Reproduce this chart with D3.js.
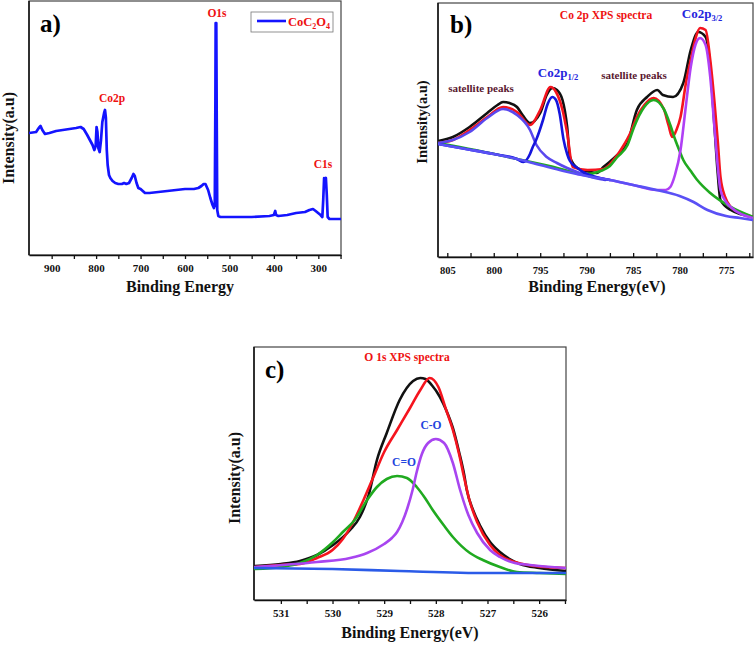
<!DOCTYPE html>
<html><head><meta charset="utf-8">
<script src="https://cdn.jsdelivr.net/npm/d3@7"></script>
<style>
body{margin:0;background:#fff}
svg{display:block}
text{font-family:"Liberation Serif","Times New Roman",serif;font-weight:bold}
</style>
</head><body>
<svg id="chart" width="756" height="645"></svg>
<script>
// ---------- DATA ----------
// Panel a: survey spectrum [binding energy eV, intensity a.u.]
const surveySpectrum = [
 [951,122],[935,123],[929,127],[925,129],[921,125],[915,121],[905,122],[890,124],[875,125],[860,126],
 [845,127],[835,128],[828,126],[820,120],[814,115],[808,110],[804,105],[801,109],[799,128],[797,123],
 [795,107],[792,103],[789,115],[786,133],[782,142],[780,145],[778,137],[776,105],[774,90],[771,80],
 [768,77],[763,74],[757,72],[750,71],[742,71],[737,72],[732,71],[726,72],[720,77],[716,81],[713,79],
 [709,72],[705,67],[700,66],[695,64],[690,62],[680,62],[660,63],[640,64],[620,65],[600,66],[580,66],
 [570,67],[563,69],[558,71],[554,71],[548,65],[543,57],[538,50],[535,47],[533,50],[531.6,155],[531,232],
 [529.6,232],[528.6,135],[527.5,45],[525,39],[520,38],[500,38],[450,38],[410,39],[400,40],[397,44],
 [395,40],[390,39],[370,40],[350,42],[330,43],[320,45],[312,46],[306,44],[295,40],[291,38],[289,55],
 [287,77],[285,75],[283,77],[281,60],[279,38],[275,36],[260,36],[249,36]
];
const surveyMajorTicks = [900,800,700,600,500,400,300];
const surveyMinorTicks = [850,750,650,550,450,350,250];

// Panel b: Co 2p high-resolution spectrum
const co2pRaw = [
 [806,116],[804.4,120],[802.6,130],[800.7,144],[799.6,152],[799,155],[798.3,154],[797.5,150],[796.9,142],
 [796.1,134],[795,144],[794.3,162],[793.7,169],[793.2,167],[792.6,157],[792.1,130],[791.8,100],[791,89],
 [789.6,85],[788.9,84],[788.2,90],[786.7,102],[785.6,114],[784.6,147],[783.5,160],[782.4,167],[781.8,162],
 [780.7,160],[779.6,174],[778.8,207],[778,225],[777.2,220],[776.7,190],[776.2,124],[775.9,84],[775.6,57],
 [774.5,47],[772.1,40]
];
const co2pFit = [
 [806,114],[804.4,117],[802.6,127],[800.7,140],[799,150],[797.5,145],[796.1,132],[795,147],[793.9,170],
 [793.3,165],[792.6,147],[792.1,124],[791.5,90],[789.9,87],[788.2,88],[786.7,102],[786,112],[785.3,124],
 [784.6,140],[783.8,152],[782.8,159],[781.7,148],[781.2,132],[780.8,120],[780.3,128],[779.9,140],[779.3,175],
 [778.8,197],[778.3,218],[777.8,229],[777.2,227],[776.7,197],[776.2,150],[775.9,117],[775.6,80],[775.1,60],
 [774.5,50],[773.4,44],[772.1,40]
];
const co2pBackground = [
 [806,113],[803,108],[800,103],[797.5,98],[795,92],[792.5,86],[790,81],[787.5,77],[785,72],[782.5,67],
 [780,61],[778.5,55],[777,47],[775,41],[773.5,39],[772.1,37]
];
const co2p12Peak = [
 [806,113],[803,108],[800,103],[797.5,98],[796.8,95],[796.1,103],[795.8,110],[795.4,118],[794.7,137],
 [794.2,153],[793.7,160],[793.3,157],[792.9,143],[792.5,118],[792.1,103],[791.8,96],[791,89],[790.2,84],
 [789,80],[787.5,77]
];
const satellitePeak1 = [
 [806,114],[804.4,117],[802.6,125],[800.7,139],[799,148],[797.5,142],[796.1,127],[795.4,112],[794.3,100],
 [793.2,94],[792.1,89],[790.7,84],[789.5,80],[788,77]
];
const satellitePeak2 = [
 [806,114],[802,107],[798,99],[794,91],[790,83],[788.5,86],[787.5,91],[786.7,100],[785.6,112],[784.9,130],
 [783.8,150],[782.8,157],[781.7,148],[781,132],[780.5,118],[780,106],[779.6,97],[778.8,86],[778.1,77],
 [776.7,64],[774.5,50],[772.1,40]
];
const co2p32Peak = [
 [791,83],[788,78],[785,72],[782.5,67],[781.5,67],[781,70],[780.5,82],[779.9,107],[779.4,145],[778.8,190],
 [778.3,212],[777.8,219],[777.2,212],[776.7,180],[776.2,124],[775.6,67],[775,55],[774.5,50],[772.1,39]
];
const co2pMajorTicks = [805,800,795,790,785,780,775];
const co2pMinorTicks = [802.5,797.5,792.5,787.5,782.5,777.5,772.5];

// Panel c: O 1s high-resolution spectrum
const o1sRaw = [
 [531.5,34],[531,36],[530.63,39],[530.3,45],[529.99,55],[529.66,70],[529.47,83],[529.3,105],[529.14,140],
 [528.95,167],[528.7,200],[528.44,219],[528.3,222],[528.2,221],[528.08,215],[527.92,203],[527.8,190],
 [527.67,172],[527.55,148],[527.45,125],[527.4,110],[527.28,90],[527.15,75],[526.95,58],[526.76,48],
 [526.57,41],[526.37,36],[526,32],[525.48,29]
];
const o1sFit = [
 [531.5,33],[531,35],[530.63,36],[530.3,42],[530,50],[529.8,61],[529.6,78],[529.4,100],[529.2,124],
 [529,148],[528.75,170],[528.5,192],[528.3,210],[528.12,222],[527.95,213],[527.8,190],[527.67,170],
 [527.55,146],[527.45,122],[527.35,100],[527.2,78],[526.95,55],[526.76,45],[526.47,38],[526.08,34],[525.48,32]
];
const o1sBackground = [[531.52,32],[530,31],[528.7,29],[527,27],[525.48,27]];
const peakCdoubleO = [
 [531.5,31],[531,33],[530.63,37],[530.3,45],[529.99,58],[529.8,68],[529.57,80],[529.33,100],[529.14,113],
 [528.95,121],[528.75,124],[528.56,122],[528.37,113],[528.21,102],[528.06,90],[527.85,75],[527.67,63],
 [527.34,47],[527.09,40],[526.76,33],[526.43,28],[525.99,27],[525.48,26]
];
const peakCsingleO = [
 [531.5,33],[530.3,38],[529.66,42],[529.33,47],[529,56],[528.85,62],[528.75,68],[528.65,78],[528.55,92],
 [528.45,110],[528.37,128],[528.27,146],[528.15,157],[528,161],[527.84,157],[527.67,137],[527.53,110],
 [527.37,85],[527.2,67],[526.95,50],[526.76,43],[526.47,37],[526.18,35],[525.48,32]
];
const o1sMajorTicks = [531,530,529,528,527,526];
const o1sMinorTicks = [530.5,529.5,528.5,527.5,526.5,525.5];

// ---------- DRAW ----------
const svg = d3.select("#chart");
const FONT = '"Liberation Serif","Times New Roman",serif';

function makePanel(o){
  const g = svg.append("g");
  const x = d3.scaleLinear().domain(o.xDomain).range([o.left, o.right]);
  const y = d3.scaleLinear().domain(o.yDomain).range([o.bottom, o.top]);
  g.append("rect").attr("x",o.left).attr("y",o.top).attr("width",o.right-o.left).attr("height",o.bottom-o.top)
   .attr("fill","#fff").attr("stroke","#444").attr("stroke-width",1.2);
  const inward = o.inward;
  const tl = inward ? -4 : 4;
  const ax = d3.axisBottom(x).tickValues(o.major).tickFormat(d3.format("d")).tickSize(tl).tickSizeOuter(0).tickPadding(inward?10:5);
  const axG = g.append("g").attr("transform",`translate(0,${o.bottom})`).call(ax);
  axG.select(".domain").attr("stroke","#111").attr("stroke-width",1.6);
  axG.selectAll(".tick line").attr("stroke","#111").attr("stroke-width",1.3);
  axG.selectAll(".tick text").attr("font-family",FONT).attr("font-weight","bold").attr("font-size",o.tickFont).attr("fill","#111");
  const mx = d3.axisBottom(x).tickValues(o.minor).tickFormat("").tickSize(tl).tickSizeOuter(0);
  const mG = g.append("g").attr("transform",`translate(0,${o.bottom})`).call(mx);
  mG.select(".domain").remove();
  mG.selectAll(".tick line").attr("stroke","#111").attr("stroke-width",1.3);
  g.append("line").attr("x1",o.left).attr("x2",o.left).attr("y1",o.top).attr("y2",o.bottom).attr("stroke","#111").attr("stroke-width",1.5);
  const clipId = "clip"+o.id;
  svg.append("clipPath").attr("id",clipId).append("rect").attr("x",o.left).attr("y",o.top-2).attr("width",o.right-o.left).attr("height",o.bottom-o.top+2);
  const lg = g.append("g").attr("clip-path",`url(#${clipId})`);
  o.series.forEach(s=>{
    const line = d3.line().x(d=>x(d[0])).y(d=>y(d[1])).curve(s.curve||d3.curveMonotoneX);
    lg.append("path").datum(s.data).attr("d",line).attr("fill","none").attr("stroke",s.color)
      .attr("stroke-width",s.width||2.6).attr("stroke-linejoin","round").attr("stroke-linecap","round");
  });
  g.append("text").attr("x",o.xTitlePos[0]).attr("y",o.xTitlePos[1]).attr("text-anchor","middle")
   .attr("font-size",16).attr("fill","#111").text(o.xTitle);
  g.append("text").attr("transform",`translate(${o.yTitlePos[0]},${o.yTitlePos[1]}) rotate(-90)`).attr("text-anchor","middle")
   .attr("font-size",o.yTitleFont).attr("fill","#111").text("Intensity(a.u)");
  g.append("text").attr("x",o.tag[0]).attr("y",o.tag[1]).attr("font-size",25).attr("fill","#000").text(o.tag[2]);
  return {g,x,y};
}

// Panel a
const pa = makePanel({id:"a",left:29,right:341,top:1,bottom:255,xDomain:[951,249],yDomain:[0,254],
  major:surveyMajorTicks,minor:surveyMinorTicks,inward:false,tickFont:11,
  series:[{data:surveySpectrum,color:"#1414ff",width:2.7,curve:d3.curveLinear}],
  xTitle:"Binding Energy",xTitlePos:[180,292],yTitlePos:[14,138],yTitleFont:16,tag:[40,32,"a)"]});
function lbl(g,x,y,t,c,s){return g.append("text").attr("x",x).attr("y",y).attr("text-anchor","middle").attr("font-size",s).attr("fill",c).text(t);}
lbl(pa.g,217,17,"O1s","#ee1111",11.5);
lbl(pa.g,112,102,"Co2p","#ee1111",11.5);
lbl(pa.g,323,168,"C1s","#ee1111",11.5);
pa.g.append("rect").attr("x",251).attr("y",12).attr("width",82).attr("height",20).attr("fill","#fff").attr("stroke","#777").attr("stroke-width",0.8);
pa.g.append("line").attr("x1",257).attr("x2",286).attr("y1",21).attr("y2",21).attr("stroke","#1414ff").attr("stroke-width",2.6);
const lt = pa.g.append("text").attr("x",288).attr("y",26).attr("font-size",12.5).attr("fill","#ee1111");
lt.append("tspan").text("CoC");
lt.append("tspan").attr("font-size",8).attr("dy",3).text("2");
lt.append("tspan").attr("dy",-3).text("O");
lt.append("tspan").attr("font-size",8).attr("dy",3).text("4");

// Panel b
const pb = makePanel({id:"b",left:438,right:753,top:3,bottom:257,xDomain:[806,772.1],yDomain:[0,254],
  major:co2pMajorTicks,minor:co2pMinorTicks,inward:true,tickFont:10.5,
  series:[
    {data:co2pRaw,color:"#111111"},
    {data:co2pFit,color:"#f5141e"},
    {data:satellitePeak2,color:"#20aa20"},
    {data:co2p32Peak,color:"#b040f5"},
    {data:satellitePeak1,color:"#5a48ee"},
    {data:co2p12Peak,color:"#1515dd"},
    {data:co2pBackground,color:"#5a50f5"}
  ],
  xTitle:"Binding Energy(eV)",xTitlePos:[597,292],yTitlePos:[427,122],yTitleFont:14.5,tag:[450,33,"b)"]});
lbl(pb.g,606,19,"Co 2p XPS spectra","#ee1111",11.5);
lbl(pb.g,481,92,"satellite peaks","#5a1830",11);
lbl(pb.g,634,79,"satellite peaks","#5a1830",11);
function coLabel(g,x,y,sub){
  const t=g.append("text").attr("x",x).attr("y",y).attr("text-anchor","middle").attr("font-size",13).attr("fill","#2424dd");
  t.append("tspan").text("Co2p");
  t.append("tspan").attr("font-size",8.5).attr("dy",3).text(sub);
}
coLabel(pb.g,558,77,"1/2");
coLabel(pb.g,702,18,"3/2");

// Panel c
const pc = makePanel({id:"c",left:254,right:566,top:347,bottom:600,xDomain:[531.52,525.48],yDomain:[0,253],
  major:o1sMajorTicks,minor:o1sMinorTicks,inward:false,tickFont:11,
  series:[
    {data:o1sRaw,color:"#111111"},
    {data:o1sFit,color:"#f5141e"},
    {data:peakCdoubleO,color:"#20aa20"},
    {data:peakCsingleO,color:"#a845f0"},
    {data:o1sBackground,color:"#2b5be8"}
  ],
  xTitle:"Binding Energy(eV)",xTitlePos:[410,638],yTitlePos:[240,478],yTitleFont:16,tag:[265,378,"c)"]});
lbl(pc.g,407,361,"O 1s XPS spectra","#ee1111",11.5);
lbl(pc.g,431,429,"C-O","#2244dd",11.5);
lbl(pc.g,404,466,"C=O","#2244dd",11.5);
</script>
</body></html>
